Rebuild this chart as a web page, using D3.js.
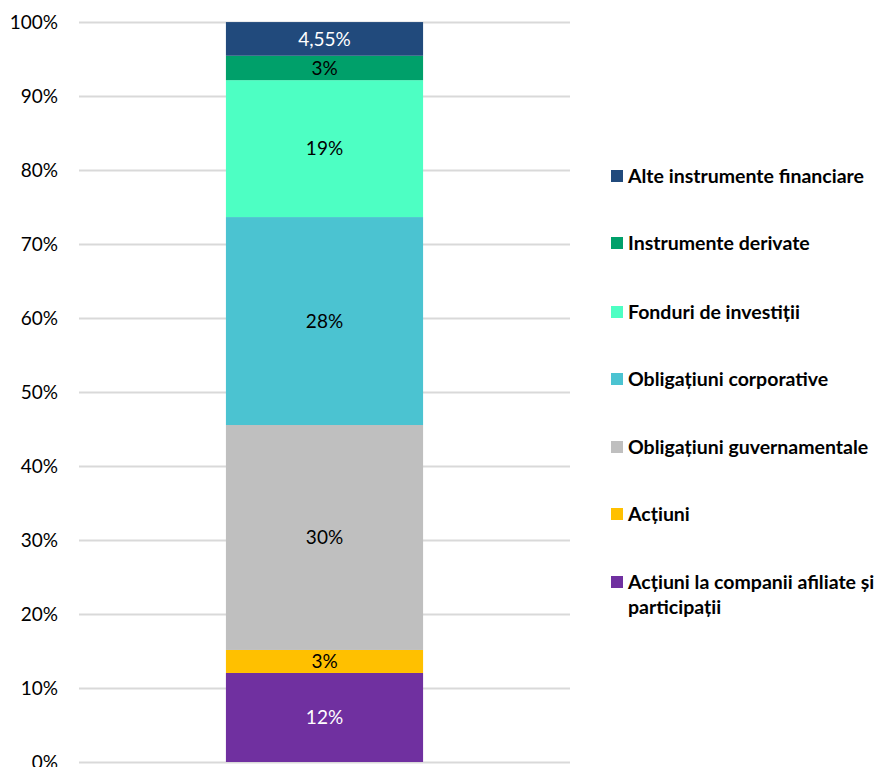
<!DOCTYPE html>
<html><head><meta charset="utf-8">
<script src="https://cdn.jsdelivr.net/npm/d3@7"></script>
<style>body{margin:0;background:#fff}svg{display:block}text{font-family:Lato,"Noto Sans",sans-serif}</style>
</head><body><svg id="c" width="885" height="767"></svg>
<script>
const categories = ["Total"];
const seriesNames = ["Acțiuni la companii afiliate și participații","Acțiuni","Obligațiuni guvernamentale","Obligațiuni corporative","Fonduri de investiții","Instrumente derivate","Alte instrumente financiare"];
const seriesValues = [12.03, 3.11, 30.4, 28.1, 18.5, 3.3, 4.55];
const seriesLabels = ["12%","3%","30%","28%","19%","3%","4,55%"];
const seriesColors = ["#7030A0","#FFC000","#BFBFBF","#4BC3D1","#4DFFC3","#00A06A","#214A7C"];
const labelColors = ["#fff","#000","#000","#000","#000","#000","#fff"];
const tickValues = [0,10,20,30,40,50,60,70,80,90,100];

const svg = d3.select("#c");
const x = d3.scaleBand().domain(categories).range([79,570]).paddingInner(0.427).paddingOuter(0.427);
const y = d3.scaleLinear().domain([0,100]).range([762,22]);

const yAxis = svg.append("g").attr("transform","translate(79,0)")
  .call(d3.axisLeft(y).tickValues(tickValues).tickFormat(d=>d+"%").tickSize(-491).tickPadding(21));
yAxis.select(".domain").remove();
yAxis.selectAll(".tick line").attr("stroke","#d9d9d9").attr("stroke-width",2);
yAxis.selectAll(".tick text").attr("font-size",19).attr("fill","#000");

const row = {}; seriesNames.forEach((n,i)=>row[n]=seriesValues[i]);
const stack = d3.stack().keys(seriesNames)([row]);
stack.forEach((s,i)=>{
  const d = s[0];
  svg.append("rect").attr("x",x(categories[0])).attr("width",x.bandwidth())
    .attr("y",y(d[1])).attr("height",y(d[0])-y(d[1])).attr("fill",seriesColors[i]);
  svg.append("text").attr("x",x(categories[0])+x.bandwidth()/2).attr("y",(y(d[0])+y(d[1]))/2)
    .attr("dy","0.35em").attr("text-anchor","middle").attr("font-size",19).attr("fill",labelColors[i])
    .text(seriesLabels[i]);
});

const legY = [176,243,312,379,447,514,582];
const legOrder = seriesNames.map((n,i)=>i).reverse();
legOrder.forEach((si,k)=>{
  const g = svg.append("g").attr("transform",`translate(611,${legY[k]})`);
  g.append("rect").attr("x",0).attr("y",-6).attr("width",12).attr("height",12).attr("fill",seriesColors[si]);
  const name = seriesNames[si];
  const t = g.append("text").attr("x",17).attr("dy","0.35em").attr("font-size",19.5).attr("font-weight","bold").attr("fill","#000");
  if (name.length > 35) {
    const parts = ["Acțiuni la companii afiliate și","participații"];
    t.append("tspan").attr("x",17).text(parts[0]);
    t.append("tspan").attr("x",17).attr("dy",25).text(parts[1]);
  } else t.text(name);
});
</script></body></html>
